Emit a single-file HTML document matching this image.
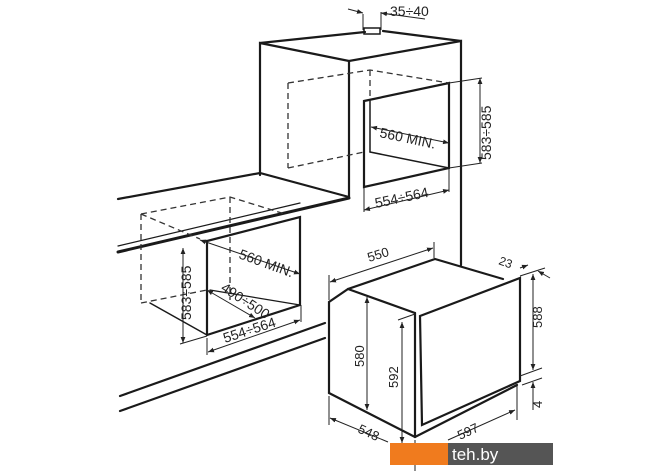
<!DOCTYPE html>
<html><head><style>
html,body{margin:0;padding:0;background:#fff;}
svg{display:block;}
text{font-family:"Liberation Sans",sans-serif;font-size:13px;fill:#222;}
</style></head><body>
<svg width="670" height="471" viewBox="0 0 670 471" xmlns="http://www.w3.org/2000/svg">
<defs><marker id="a" viewBox="0 0 10 10" refX="10" refY="5" markerWidth="6" markerHeight="6" orient="auto-start-reverse"><path d="M0,1 L10,5 L0,9 z" fill="#222"/></marker></defs>
<g stroke="#1a1a1a" fill="none" stroke-width="2.2" stroke-linecap="round">
<polyline points="260,175 260,43 349,61 461,41 461,265"/>
<polyline points="260,43 365,32"/>
<polyline points="383,31 461,41"/>
<line x1="349" y1="61" x2="349" y2="197"/>
<rect x="364" y="28" width="16" height="6" stroke-width="1.5"/>
<polygon points="364,101 449,83 449,168 364,187"/>
<line x1="370" y1="152" x2="449" y2="168" stroke-width="1.5"/>
<line x1="370" y1="101" x2="370" y2="152" stroke-width="1.5"/>
<polyline points="118,199 260,173 349,197"/>
<line x1="118" y1="252" x2="349" y2="198" stroke-width="3"/>
<line x1="118" y1="246" x2="300" y2="203" stroke-width="1.2"/>
<polyline points="207,335 207,241 300,217 300,305 207,335"/>
<line x1="150" y1="303" x2="207" y2="335" stroke-width="1.5"/>
<line x1="210" y1="290" x2="300" y2="305" stroke-width="1.2"/>
<line x1="120" y1="396" x2="325" y2="323"/>
<line x1="120" y1="411" x2="325" y2="338"/>
<polyline points="329,393 329,302 348,289 435,259 503,279"/>
<polyline points="348,289 415,313"/>
<polyline points="329,393 415,437 517,385"/>
<line x1="415" y1="313" x2="415" y2="437"/>
<polygon points="420,316 520,278 520,381 422,425"/>
</g>
<g stroke="#333" fill="none" stroke-width="1.3" stroke-dasharray="6,4">
<polyline points="288,83 370,70 449,83"/>
<line x1="288" y1="83" x2="288" y2="168"/>
<line x1="288" y1="168" x2="364" y2="152"/>
<line x1="370" y1="70" x2="370" y2="100"/>
<polyline points="141,214 230,197 285,214"/>
<line x1="141" y1="214" x2="141" y2="303"/>
<line x1="141" y1="214" x2="200" y2="239"/>
<line x1="230" y1="197" x2="230" y2="300"/>
<line x1="141" y1="303" x2="207" y2="290"/>
</g>
<g stroke="#222" fill="none" stroke-width="1">
<line x1="363" y1="14" x2="363" y2="30"/><line x1="381" y1="12" x2="381" y2="30"/>
<line x1="348" y1="9" x2="363" y2="13" marker-end="url(#a)"/>
<line x1="395" y1="15" x2="381" y2="13" marker-end="url(#a)"/>
<line x1="381" y1="13" x2="425" y2="19"/>
<line x1="449" y1="83" x2="482" y2="78"/><line x1="449" y1="168" x2="482" y2="163"/>
<line x1="480" y1="78" x2="480" y2="163" marker-start="url(#a)" marker-end="url(#a)"/>
<line x1="364" y1="188" x2="364" y2="212"/><line x1="449" y1="169" x2="449" y2="192"/>
<line x1="364" y1="210" x2="449" y2="190" marker-start="url(#a)" marker-end="url(#a)"/>
<line x1="371" y1="127" x2="449" y2="143" marker-start="url(#a)" marker-end="url(#a)"/>
<line x1="200" y1="240" x2="300" y2="274" marker-start="url(#a)" marker-end="url(#a)"/>
<line x1="207" y1="290" x2="255" y2="318" marker-start="url(#a)" marker-end="url(#a)"/>
<line x1="207" y1="338" x2="207" y2="355"/><line x1="301" y1="305" x2="301" y2="322"/>
<line x1="208" y1="352" x2="300" y2="320" marker-start="url(#a)" marker-end="url(#a)"/>
<line x1="183" y1="248" x2="183" y2="343" marker-start="url(#a)" marker-end="url(#a)"/>
<line x1="180" y1="344" x2="207" y2="336"/>
<line x1="329" y1="300" x2="329" y2="275"/><line x1="434" y1="258" x2="434" y2="242"/>
<line x1="330" y1="282" x2="433" y2="248" marker-start="url(#a)" marker-end="url(#a)"/>
<line x1="367" y1="297" x2="367" y2="410" marker-start="url(#a)" marker-end="url(#a)"/>
<line x1="402" y1="322" x2="402" y2="443" marker-start="url(#a)" marker-end="url(#a)"/>
<line x1="398" y1="320" x2="415" y2="314"/>
<line x1="329" y1="396" x2="329" y2="425"/>
<line x1="415" y1="440" x2="415" y2="471"/>
<line x1="330" y1="418" x2="388" y2="442" marker-start="url(#a)"/>
<line x1="448" y1="440" x2="515" y2="410" marker-end="url(#a)"/>
<line x1="517" y1="385" x2="517" y2="420"/>
<line x1="520" y1="276" x2="545" y2="268"/><line x1="520" y1="376" x2="542" y2="368"/>
<line x1="522" y1="385" x2="542" y2="378"/>
<line x1="533" y1="274" x2="533" y2="370" marker-start="url(#a)" marker-end="url(#a)"/>
<line x1="533" y1="382" x2="533" y2="410" marker-start="url(#a)"/>
<line x1="520" y1="268" x2="528" y2="265" marker-end="url(#a)"/>
<line x1="550" y1="278" x2="538" y2="271" marker-end="url(#a)"/>
</g>
<g>
<text x="390" y="16" style="font-size:14px">35÷40</text>
<text x="379" y="137" transform="rotate(12 379 137)" style="font-size:14px">560 MIN.</text>
<text x="376" y="208" transform="rotate(-12 376 208)" style="font-size:14px">554÷564</text>
<text transform="translate(491,160) rotate(-90)" style="font-size:14px">583÷585</text>
<text x="238" y="258" transform="rotate(20 238 258)" style="font-size:14px">560 MIN.</text>
<text x="220" y="290" transform="rotate(33 220 290)" style="font-size:14px">490÷500</text>
<text x="225" y="343" transform="rotate(-18 225 343)" style="font-size:14px">554÷564</text>
<text transform="translate(191,320) rotate(-90)" style="font-size:14px">583÷585</text>
<text x="369" y="262" transform="rotate(-17 369 262)">550</text>
<text transform="translate(364,367) rotate(-90)">580</text>
<text transform="translate(398,388) rotate(-90)">592</text>
<text x="357" y="432" transform="rotate(25 357 432)">548</text>
<text x="460" y="440" transform="rotate(-25 460 440)">597</text>
<text x="498" y="264" transform="rotate(20 498 264)" style="font-size:12px">23</text>
<text transform="translate(542,328) rotate(-90)">588</text>
<text transform="translate(542,408) rotate(-90)">4</text>
</g>
<rect x="390" y="443" width="58" height="22" fill="#f07b1e"/>
<rect x="448" y="443" width="105" height="22" fill="#555"/>
<text x="452" y="460" style="fill:#fff;font-size:17px">teh.by</text>
</svg>
</body></html>
